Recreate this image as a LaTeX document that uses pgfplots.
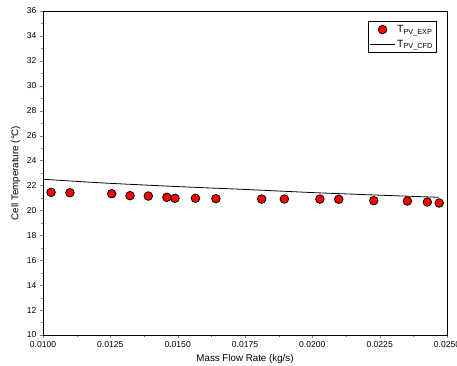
\documentclass[border=0pt]{standalone}
\usepackage{pgfplots}
\pgfplotsset{compat=1.18}
\usepackage{fontspec}
\setmainfont{Liberation Sans}
\begin{document}
\begin{tikzpicture}
\begin{axis}[
  scale only axis,
  width=404bp, height=324bp,
  xmin=0.01, xmax=0.025, ymin=10, ymax=36,
  xtick={0.01,0.0125,0.015,0.0175,0.02,0.0225,0.025},
  ytick={10,12,...,36},
  minor x tick num=1, minor y tick num=1,
  scaled x ticks=false,
  xticklabel style={/pgf/number format/.cd,fixed,fixed zerofill,precision=4},
  /pgf/number format/assume math mode=true,
  tick align=outside,
  xtick pos=bottom, ytick pos=left,
  major tick length=3bp, minor tick length=2bp,
  tick label style={font=\fontsize{8.6}{9}\selectfont},
  xlabel={Mass Flow Rate (kg/s)},
  ylabel={Cell Temperature (°C)},
  label style={font=\fontsize{9.8}{11}\selectfont},
  xlabel style={at={(axis description cs:0.5,-0.074)}, anchor=center},
  ylabel style={at={(axis description cs:-0.067,0.5)}, anchor=center},
  legend style={at={(axis description cs:0.973,0.969)}, anchor=north east,
    draw=black, font=\fontsize{10.5}{12}\selectfont, inner xsep=1pt, inner ysep=2pt,
    row sep=2pt, cells={anchor=west}},
  legend image code/.code={\draw[mark repeat=2,mark phase=2,#1] plot coordinates {(0cm,0cm) (0.45cm,0cm) (0.88cm,0cm)};},
  legend cell align=left,
]
\addplot[only marks, mark=*, mark size=4.3bp, mark options={fill=red, draw=black, line width=0.8pt}]
coordinates {
(0.0103,21.45) (0.0110,21.42) (0.01255,21.34) (0.01323,21.18) (0.01391,21.15)
(0.0146,21.05) (0.0149,20.97) (0.01566,20.97) (0.01642,20.94) (0.01812,20.91)
(0.01896,20.91) (0.02028,20.91) (0.02098,20.89) (0.02228,20.78) (0.02353,20.75)
(0.02427,20.67) (0.02471,20.59)
};
\addlegendentry{T\textsubscript{PV\_EXP}}
\addplot[black, line width=0.8pt, smooth]
coordinates {
(0.0100,22.50) (0.0110,22.36) (0.0125,22.17) (0.0150,21.91) (0.0175,21.68)
(0.0200,21.43) (0.0225,21.22) (0.0247,21.05)
};
\addlegendentry{T\textsubscript{PV\_CFD}}
\end{axis}
\pgfresetboundingbox
\path ([shift={(-43bp,-31bp)}]current axis.south west) rectangle ([shift={(10bp,11bp)}]current axis.north east);
\end{tikzpicture}
\end{document}
